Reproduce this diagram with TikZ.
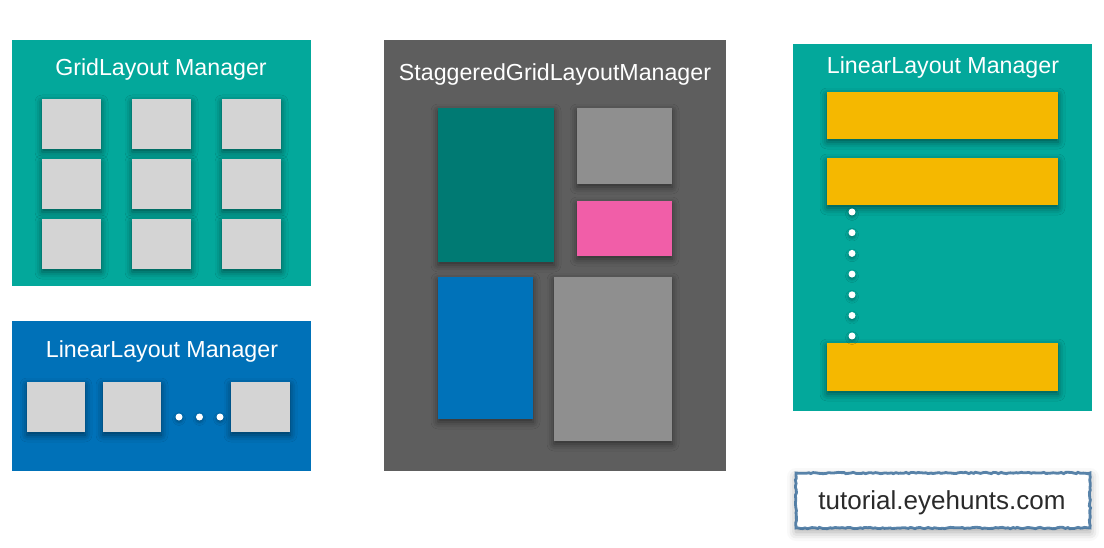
\documentclass[tikz,border=0pt]{standalone}
\usepackage{fontspec}
\setmainfont{Liberation Sans}
\usetikzlibrary{shadows.blur,decorations.pathmorphing}
\definecolor{tealpanel}{HTML}{03A89B}
\definecolor{bluepanel}{HTML}{0071B8}
\definecolor{darkpanel}{HTML}{5E5E5E}
\definecolor{tealtile}{HTML}{007A73}
\definecolor{graytile}{HTML}{8F8F8F}
\definecolor{pinktile}{HTML}{F15EA8}
\definecolor{bluetile}{HTML}{0072B9}
\definecolor{lighttile}{HTML}{D4D4D4}
\definecolor{yellowbar}{HTML}{F5B800}
\definecolor{markblue}{HTML}{3D6F9C}
\definecolor{marktext}{HTML}{2A2A2A}
\tikzset{
  box/.style={inner sep=0pt, outer sep=0pt, anchor=north west, draw=none},
  panel/.style={box},
  tile/.style={box, blur shadow={shadow xshift=0pt, shadow yshift=-3pt, shadow blur radius=7pt, shadow opacity=50}},
  title/.style={text=white, font=\fontsize{23.2}{27}\selectfont, anchor=base, inner sep=0pt},
  dotw/.style={circle, fill=white, inner sep=0pt, minimum size=7pt, blur shadow={shadow xshift=0pt, shadow yshift=-2pt, shadow blur radius=3pt, shadow opacity=30}},
}
\begin{document}
\begin{tikzpicture}[x=1pt,y=-1pt]
\useasboundingbox (0,0) rectangle (1104,548);
% ---------- GridLayout panel ----------
\node[panel, fill=tealpanel, minimum width=299pt, minimum height=246pt] (grid) at (12,40) {};
\node[title] (gridtitle) at (161,76) {GridLayout Manager};
\foreach \c/\x in {1/42,2/132,3/222}{
  \foreach \r/\y in {1/99,2/159,3/219}{
    \node[tile, fill=lighttile, minimum width=59pt, minimum height=50pt] (g\r\c) at (\x,\y) {};
  }
}
% ---------- LinearLayout (horizontal) panel ----------
\node[panel, fill=bluepanel, minimum width=299pt, minimum height=150pt] (hlin) at (12,321) {};
\node[title] (hlintitle) at (162,357) {LinearLayout Manager};
\node[tile, fill=lighttile, minimum width=58pt, minimum height=50pt] (h1) at (27,382) {};
\node[tile, fill=lighttile, minimum width=58pt, minimum height=50pt] (h2) at (103,382) {};
\node[tile, fill=lighttile, minimum width=59pt, minimum height=50pt] (h3) at (231,382) {};
\node[dotw] (hd1) at (179,417) {};
\node[dotw] (hd2) at (199.5,417) {};
\node[dotw] (hd3) at (220,417) {};
% ---------- StaggeredGrid panel ----------
\node[panel, fill=darkpanel, minimum width=342pt, minimum height=431pt] (stag) at (384,40) {};
\node[title] (stagtitle) at (555,81) {StaggeredGridLayoutManager};
\node[tile, fill=tealtile, minimum width=116pt, minimum height=154pt] (s1) at (438,108) {};
\node[tile, fill=graytile, minimum width=95pt, minimum height=76pt] (s2) at (577,108) {};
\node[tile, fill=pinktile, minimum width=95pt, minimum height=55pt] (s3) at (577,201) {};
\node[tile, fill=bluetile, minimum width=95pt, minimum height=142pt] (s4) at (438,277) {};
\node[tile, fill=graytile, minimum width=118pt, minimum height=164pt] (s5) at (554,277) {};
% ---------- LinearLayout (vertical) panel ----------
\node[panel, fill=tealpanel, minimum width=299pt, minimum height=367pt] (vlin) at (793,44) {};
\node[title] (vlintitle) at (943,74) {LinearLayout Manager};
\node[tile, fill=yellowbar, minimum width=231pt, minimum height=47pt] (v1) at (827,92) {};
\node[tile, fill=yellowbar, minimum width=231pt, minimum height=47pt] (v2) at (827,158) {};
\node[tile, fill=yellowbar, minimum width=231pt, minimum height=48pt] (v3) at (827,343) {};
\foreach \i/\y in {1/212,2/232.7,3/253.4,4/274.1,5/294.8,6/315.5,7/336}{
  \node[dotw] (vd\i) at (852,\y) {};
}
% ---------- watermark ----------
\node[box, fill=white, minimum width=294pt, minimum height=55pt,
  blur shadow={shadow xshift=0pt, shadow yshift=-4pt, shadow blur radius=9pt, shadow opacity=35}] (mark) at (796,473) {};
\draw[markblue, line width=2.8pt, opacity=0.85,
  decorate, decoration={random steps, segment length=2.5pt, amplitude=0.7pt}]
  (mark.north west) -- (mark.north east) -- (mark.south east) -- (mark.south west) -- cycle;
\node[anchor=base, inner sep=0pt, text=marktext, font=\fontsize{26}{30}\selectfont] (marktext) at (942,509) {tutorial.eyehunts.com};
\end{tikzpicture}
\end{document}
